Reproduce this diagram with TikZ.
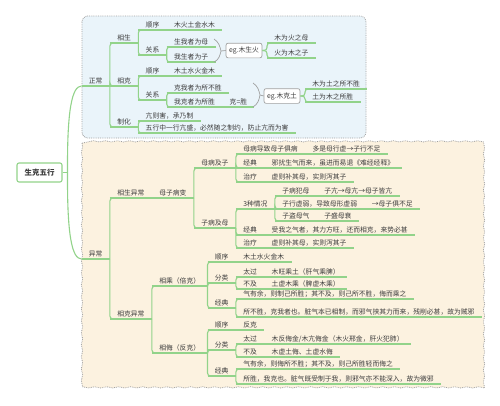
\documentclass[tikz,border=0pt]{standalone}
\usepackage{fontspec}
\setmainfont{Noto Sans CJK SC}
\usetikzlibrary{decorations.pathmorphing}
\definecolor{lg}{HTML}{92D38A}
\definecolor{txt}{HTML}{3C3C3C}
\definecolor{bluebg}{HTML}{EAF4FA}
\definecolor{creambg}{HTML}{FCF2E0}
\definecolor{bord}{HTML}{A0A0A0}
\tikzset{
  t/.style={anchor=south west, inner xsep=7.2pt, inner ysep=1.5pt, text height=5.6pt, text depth=1.1pt, font=\fontsize{6.8}{7}\selectfont, text=txt},
  gline/.style={draw=lg, line width=1.1pt},
  egbox/.style={draw=bord, fill=white, rounded corners=2pt, line width=0.7pt, inner xsep=3pt, inner ysep=4pt, text height=5.6pt, text depth=1.1pt, font=\fontsize{6.8}{7}\selectfont, text=txt},
  brace/.style={draw=bord, line width=0.7pt},
}
\begin{document}
\begin{tikzpicture}[x=1pt,y=-1pt]
\useasboundingbox (0,0) rectangle (500,405);
\fill[white] (0,0) rectangle (500,405);
% background boxes
\draw[draw=bord, densely dotted, line width=0.8pt, fill=bluebg, rounded corners=6pt] (82,16) rectangle (366,138);
\draw[draw=bord, densely dotted, line width=0.8pt, fill=creambg, decorate, decoration={snake, amplitude=0.6pt, segment length=12pt}] (82,143) rectangle (482,386);

% root
\node[draw=lg, line width=1.1pt, fill=white, rounded corners=2pt, minimum width=45pt, minimum height=19pt, font=\fontsize{7.5}{8}\selectfont\bfseries, text=txt] (root) at (39.5,172.5) {生克五行};

% ===== 正常 =====
\node[t] (zc) at (81.5,86) {正常};
\node[t] (xs) at (zc.south east |- 0,43) {相生};
\node[t] (xk) at (zc.south east |- 0,86) {相克};
\node[t] (zh) at (zc.south east |- 0,127) {制化};

\node[t] (xs1) at (xs.south east |- 0,30) {顺序};
\node[t] (xs1a) at (xs1.south east) {木火土金水木};
\node[t] (xs2) at (xs.south east |- 0,55) {关系};
\node[t] (xs2a) at (xs2.south east |- 0,47) {生我者为母};
\node[t] (xs2b) at (xs2.south east |- 0,62) {我生者为子};
\node[egbox] (eg1) at (244,50.5) {eg.木生火};
\node[t] (c1) at (267,43) {木为火之母};
\node[t] (c2) at (267,58) {火为木之子};

\node[t] (xk1) at (xk.south east |- 0,76) {顺序};
\node[t] (xk1a) at (xk1.south east) {木土水火金木};
\node[t] (xk2) at (xk.south east |- 0,100) {关系};
\node[t] (xk2a) at (xk2.south east |- 0,93) {克我者为所不胜};
\node[t] (xk2b) at (xk2.south east |- 0,107) {我克者为所胜};
\node[t] (xk2c) at (xk2b.south east) {克=胜};
\node[egbox] (eg2) at (282,96) {eg.木克土};
\node[t] (d1) at (305,89) {木为土之所不胜};
\node[t] (d2) at (305,102) {土为木之所胜};

\node[t] (zh1) at (zh.south east |- 0,121) {亢则害，承乃制};
\node[t] (zh2) at (zh.south east |- 0,133) {五行中一行亢盛，必然随之制约，防止亢而为害};

% ===== 异常 =====
\node[t] (yc) at (81.5,259) {异常};
\node[t] (ys) at (yc.south east |- 0,198) {相生异常};
\node[t] (ysm) at (ys.south east) {母子病变};
\node[t] (ky) at (yc.south east |- 0,319) {相克异常};

\node[t] (mb) at (ysm.south east |- 0,168) {母病及子};
\node[t] (zb) at (ysm.south east |- 0,228) {子病及母};

\node[t] (mb1) at (mb.south east |- 0,154) {母病导致母子俱病};
\node[t] (mb1a) at (mb1.south east) {多是母行虚→子行不足};
\node[t] (mb2) at (mb.south east |- 0,168) {经典};
\node[t] (mb2a) at (mb2.south east) {邪扰生气而来，虽进而易退《难经经释》};
\node[t] (mb3) at (mb.south east |- 0,182) {治疗};
\node[t] (mb3a) at (mb3.south east) {虚则补其母，实则泻其子};

\node[t] (zb1) at (zb.south east |- 0,209) {3种情况};
\node[t] (zb1a) at (zb1.south east |- 0,196) {子病犯母};
\node[t] (zb1aa) at (zb1a.south east) {子亢→母亢→母子皆亢};
\node[t] (zb1b) at (zb1.south east |- 0,209) {子行虚弱，导致母形虚弱};
\node[t] (zb1ba) at (zb1b.south east) {→母子俱不足};
\node[t] (zb1c) at (zb1.south east |- 0,221) {子盗母气};
\node[t] (zb1ca) at (zb1c.south east) {子盛母衰};
\node[t] (zb2) at (zb.south east |- 0,235) {经典};
\node[t] (zb2a) at (zb2.south east) {受我之气者，其力方旺，还而相克，来势必甚};
\node[t] (zb3) at (zb.south east |- 0,248) {治疗};
\node[t] (zb3a) at (zb3.south east) {虚则补其母，实则泻其子};

\node[t] (cs) at (ky.south east |- 0,286) {相乘（倍克）};
\node[t] (cw) at (ky.south east |- 0,353) {相侮（反克）};

\node[t] (cs1) at (cs.south east |- 0,262) {顺序};
\node[t] (cs1a) at (cs1.south east) {木土水火金木};
\node[t] (cs2) at (cs.south east |- 0,283) {分类};
\node[t] (cs2a) at (cs2.south east |- 0,277) {太过};
\node[t] (cs2aa) at (cs2a.south east) {木旺乘土（肝气乘脾）};
\node[t] (cs2b) at (cs2.south east |- 0,289) {不及};
\node[t] (cs2ba) at (cs2b.south east) {土虚木乘（脾虚木乘）};
\node[t] (cs3) at (cs.south east |- 0,308) {经典};
\node[t] (cs3a) at (cs3.south east |- 0,299) {气有余，则制己所胜；其不及，则己所不胜，侮而乘之};
\node[t] (cs3b) at (cs3.south east |- 0,317) {所不胜，克我者也。脏气本已相制，而邪气挟其力而来，残削必甚，故为贼邪};

\node[t] (cw1) at (cw.south east |- 0,330) {顺序};
\node[t] (cw1a) at (cw1.south east) {反克};
\node[t] (cw2) at (cw.south east |- 0,350) {分类};
\node[t] (cw2a) at (cw2.south east |- 0,344) {太过};
\node[t] (cw2aa) at (cw2a.south east) {木反侮金/木亢侮金（木火邢金，肝火犯肺）};
\node[t] (cw2b) at (cw2.south east |- 0,357) {不及};
\node[t] (cw2ba) at (cw2b.south east) {木虚土侮、土虚水侮};
\node[t] (cw3) at (cw.south east |- 0,376) {经典};
\node[t] (cw3a) at (cw3.south east |- 0,369) {气有余，则侮所不胜；其不及，则己所胜轻而侮之};
\node[t] (cw3b) at (cw3.south east |- 0,384) {所胜，我克也。脏气既受制于我，则邪气亦不能深入，故为微邪};

% underlines
\foreach \n in {zc,xs,xk,zh,xs1,xs1a,xs2,xs2a,xs2b,c1,c2,xk1,xk1a,xk2,xk2a,xk2b,xk2c,d1,d2,zh1,zh2,
  yc,ys,ysm,ky,mb,zb,mb1,mb1a,mb2,mb2a,mb3,mb3a,zb1,zb1a,zb1aa,zb1b,zb1ba,zb1c,zb1ca,zb2,zb2a,zb3,zb3a,
  cs,cw,cs1,cs1a,cs2,cs2a,cs2aa,cs2b,cs2ba,cs3,cs3a,cs3b,cw1,cw1a,cw2,cw2a,cw2aa,cw2b,cw2ba,cw3,cw3a,cw3b}
  \draw[gline] (\n.south west) -- (\n.south east);

% branch connectors
\foreach \p/\c in {zc/xs,zc/xk,zc/zh,xs/xs1,xs/xs2,xs2/xs2a,xs2/xs2b,xk/xk1,xk/xk2,xk2/xk2a,xk2/xk2b,zh/zh1,zh/zh2,
  yc/ys,yc/ky,ysm/mb,ysm/zb,mb/mb1,mb/mb2,mb/mb3,zb/zb1,zb/zb2,zb/zb3,zb1/zb1a,zb1/zb1b,zb1/zb1c,
  ky/cs,ky/cw,cs/cs1,cs/cs2,cs/cs3,cs2/cs2a,cs2/cs2b,cs3/cs3a,cs3/cs3b,cw/cw1,cw/cw2,cw/cw3,cw2/cw2a,cw2/cw2b,cw3/cw3a,cw3/cw3b}
  \draw[gline, rounded corners=3pt] (\p.south east) |- (\c.south);

% eg box connectors
\foreach \e/\c in {eg1/c1,eg1/c2,eg2/d1,eg2/d2}
  \draw[gline, rounded corners=3pt] (\e.east) -- (\c.south west |- \e.east) |- (\c.south);

% braces
\draw[brace] (214,39) .. controls (219,42) and (220,47) .. (221,51) .. controls (220,55) and (219,60) .. (214,62);
\draw[brace] (221,51) -- (eg1.west);
\draw[brace] (253,83) .. controls (258,86) and (259,91) .. (260,95) .. controls (259,100) and (258,104) .. (253,107);
\draw[brace] (260,95) -- (eg2.west);

% root connectors
\coordinate (rj) at ([xshift=5pt]root.east);
\draw[gline] (root.east) -- (rj);
\draw[gline] (rj) .. controls (67,110) and (72,86) .. (zc.south west);
\draw[gline] (rj) .. controls (67,235) and (72,259) .. (yc.south west);
\end{tikzpicture}
\end{document}
